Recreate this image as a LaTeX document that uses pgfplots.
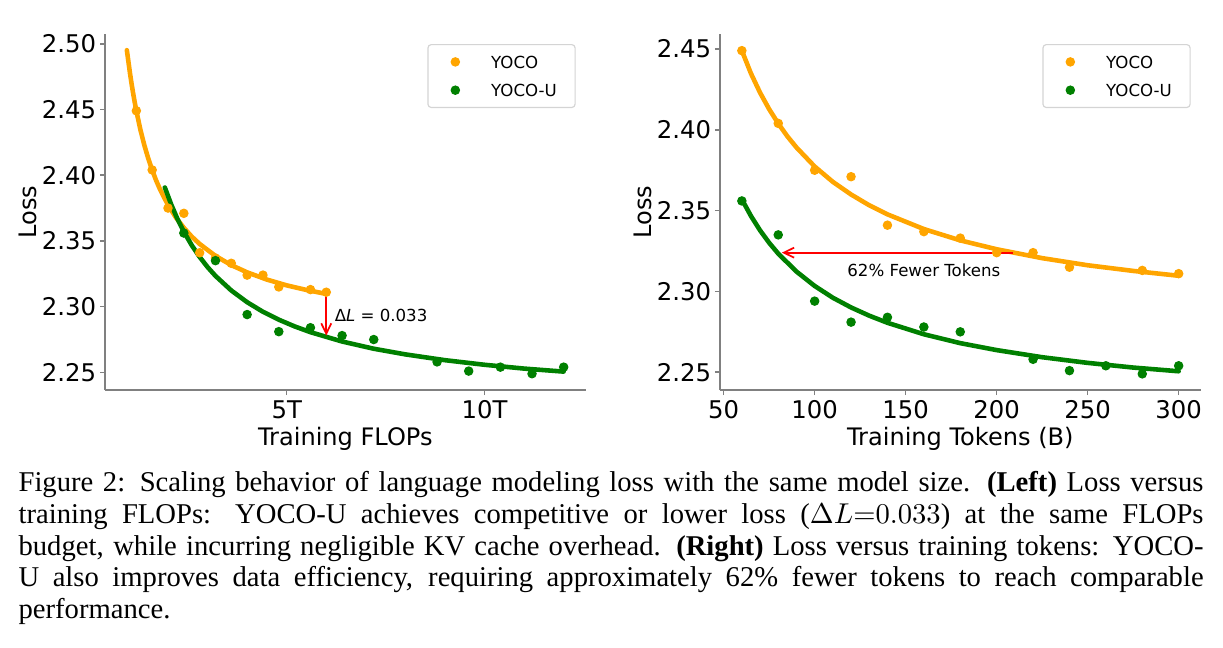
\documentclass[border=0pt]{standalone}
\usepackage{fontspec}
\setmainfont{Liberation Serif}
\newfontfamily\dejavu{DejaVu Sans}
\usepackage{pgfplots}
\pgfplotsset{compat=1.18}
\usetikzlibrary{arrows.meta}
\definecolor{yoco}{HTML}{FFA500}
\definecolor{yocou}{HTML}{008000}
\definecolor{spine}{HTML}{808080}
\definecolor{legframe}{HTML}{D4D4D4}

% scatter data: f = training FLOPs (T), t = training tokens (B), L = loss
\pgfplotstableread{
f    t    L
1.2  60   2.449
1.6  80   2.404
2.0  100  2.375
2.4  120  2.371
2.8  140  2.341
3.2  160  2.337
3.6  180  2.333
4.0  200  2.324
4.4  220  2.324
4.8  240  2.315
5.6  280  2.313
6.0  300  2.311
}\yocopts
\pgfplotstableread{
f     t    L
2.4   60   2.356
3.2   80   2.335
4.0   100  2.294
4.8   120  2.281
5.6   140  2.284
6.4   160  2.278
7.2   180  2.275
8.8   220  2.258
9.6   240  2.251
10.4  260  2.254
11.2  280  2.249
12.0  300  2.254
}\yocoupts
% fitted curves
\pgfplotstableread{
f     t    L
0.96  48   2.4951
1.04  52   2.4774
1.08  54   2.4694
1.12  56   2.4621
1.16  58   2.4553
1.20  60   2.4490
1.30  65   2.4349
1.40  70   2.4230
1.50  75   2.4128
1.60  80   2.4039
1.70  85   2.3960
1.80  90   2.3891
2.00  100  2.3773
2.20  110  2.3678
2.40  120  2.3600
2.60  130  2.3533
2.80  140  2.3477
3.20  160  2.3386
3.60  180  2.3316
4.00  200  2.3261
4.50  225  2.3206
5.00  250  2.3162
5.50  275  2.3127
6.00  300  2.3097
}\yococurve
\pgfplotstableread{
f      t    L
1.92   48   2.3907
2.08   52   2.3778
2.24   56   2.3666
2.40   60   2.3570
2.60   65   2.3467
2.80   70   2.3378
3.00   75   2.3301
3.20   80   2.3234
3.60   90   2.3123
4.00   100  2.3034
4.40   110  2.2961
4.80   120  2.2901
5.20   130  2.2850
5.60   140  2.2806
6.40   160  2.2735
7.20   180  2.2680
8.00   200  2.2637
9.00   225  2.2593
10.00  250  2.2558
11.00  275  2.2529
12.00  300  2.2506
}\yocoucurve

\pgfplotsset{
  panel/.style={
    scale only axis,
    width=167.79pt, height=124.32pt,
    axis x line=bottom, axis y line=left,
    axis line style={-, draw=spine, line width=0.55pt},
    every outer x axis line/.append style={-},
    every outer y axis line/.append style={-},
    tick align=outside,
    major tick length=1.75pt,
    major tick style={draw=spine, line width=0.55pt},
    minor tick num=0,
    tick label style={font=\dejavu\fontsize{8.5}{10}\selectfont, text=black},
    yticklabel style={anchor=east, inner sep=0pt, xshift=-1.15pt},
    xticklabel style={anchor=north, inner sep=0pt, yshift=-1.74pt},
    every axis x label/.style={at={(axis description cs:0.5,-0.155)}, anchor=base,
      inner sep=0pt, font=\dejavu\fontsize{8.4}{10}\selectfont},
    every axis y label/.style={at={(axis description cs:-0.141,0.5)}, rotate=90,
      anchor=south, inner sep=0pt, font=\dejavu\fontsize{8.4}{10}\selectfont},
    legend cell align=left,
    legend style={at={(axis description cs:0.9796,0.9719)}, anchor=north east,
      draw=legframe, line width=0.4pt, rounded corners=1.2pt, fill=white,
      inner xsep=6.4pt, inner ysep=3.9pt, row sep=5.58pt, column sep=0pt,
      font=\dejavu\fontsize{5.8}{6.5}\selectfont,
      nodes={inner sep=0pt, text height=4.3pt, text depth=0pt}},
  },
  dots/.style={only marks, mark=*, mark size=1.45pt, color=#1,
    mark options={draw=none, fill=#1},
    legend image code/.code={\path[draw=none,fill=none] (0pt,-1pt) rectangle (15.7pt,1pt);
      \fill[#1] (3.17pt,0pt) circle[radius=1.45pt];}},
  fit/.style={no marks, color=#1, line width=1.6pt, line join=round, line cap=round},
}

\begin{document}
\begin{tikzpicture}
\path[use as bounding box] (0,0) rectangle (427.07pt,225.93pt);

% ---------- left panel ----------
\begin{axis}[panel,
  at={(36.67pt,89.74pt)}, anchor=south west,
  xmin=0.408, xmax=12.552, ymin=2.2366, ymax=2.5074,
  xtick={5,10}, xticklabels={5T,10T},
  ytick={2.25,2.30,2.35,2.40,2.45,2.50},
  yticklabels={2.25,2.30,2.35,2.40,2.45,2.50},
  xlabel={Training FLOPs}, ylabel={Loss}]
\addplot[dots=yoco] table[x=f,y=L] {\yocopts};
\addlegendentry{YOCO}
\addplot[dots=yocou] table[x=f,y=L] {\yocoupts};
\addlegendentry{YOCO-U}
\addplot[fit=yoco, forget plot] table[x=f,y=L] {\yococurve};
\addplot[fit=yocou, forget plot] table[x=f,y=L] {\yocoucurve};
\draw[red, line width=0.6pt, -{Straight Barb[length=3.6pt,width=3.5pt]}]
  (axis cs:6.0,2.311) -- (axis cs:6.0,2.278);
\node[anchor=west, inner sep=0pt, font=\dejavu\fontsize{5.8}{6.5}\selectfont]
  at (axis cs:6.2,2.293) {Δ\textit{L} = 0.033};
\end{axis}

% ---------- right panel ----------
\begin{axis}[panel,
  at={(251.42pt,89.74pt)}, anchor=south west,
  xmin=48, xmax=312, ymin=2.239, ymax=2.4593,
  xtick={50,100,150,200,250,300}, xticklabels={50,100,150,200,250,300},
  ytick={2.25,2.30,2.35,2.40,2.45},
  yticklabels={2.25,2.30,2.35,2.40,2.45},
  xlabel={Training Tokens (B)}, ylabel={Loss}]
\addplot[dots=yoco] table[x=t,y=L] {\yocopts};
\addlegendentry{YOCO}
\addplot[dots=yocou] table[x=t,y=L] {\yocoupts};
\addlegendentry{YOCO-U}
\addplot[fit=yoco, forget plot, restrict x to domain=59:301] table[x=t,y=L] {\yococurve};
\addplot[fit=yocou, forget plot, restrict x to domain=59:301] table[x=t,y=L] {\yocoucurve};
\draw[red, line width=0.6pt, -{Straight Barb[length=3.6pt,width=3.5pt]}]
  (axis cs:209,2.324) -- (axis cs:82,2.324);
\node[anchor=center, inner sep=0pt, font=\dejavu\fontsize{5.8}{6.5}\selectfont]
  at (axis cs:160,2.3133) {62\% Fewer Tokens};
\end{axis}

% ---------- caption ----------
\node[anchor=base west, inner sep=0pt] at (6.29pt,54.13pt) {\parbox[t]{413.8pt}{\fontsize{10}{11}\selectfont
\hbox to 413.8pt{Figure 2: Scaling behavior of language modeling loss with the same model size. \textbf{(Left)} Loss versus}
\hbox to 413.8pt{training FLOPs:  YOCO-U achieves competitive or lower loss ($\Delta L{=}0.033$) at the same FLOPs}
\hbox to 413.8pt{budget, while incurring negligible KV cache overhead. \textbf{(Right)} Loss versus training tokens: YOCO-}
\hbox to 413.8pt{U also improves data efficiency, requiring approximately 62\% fewer tokens to reach comparable}
\hbox{performance.}}};
\end{tikzpicture}
\end{document}
